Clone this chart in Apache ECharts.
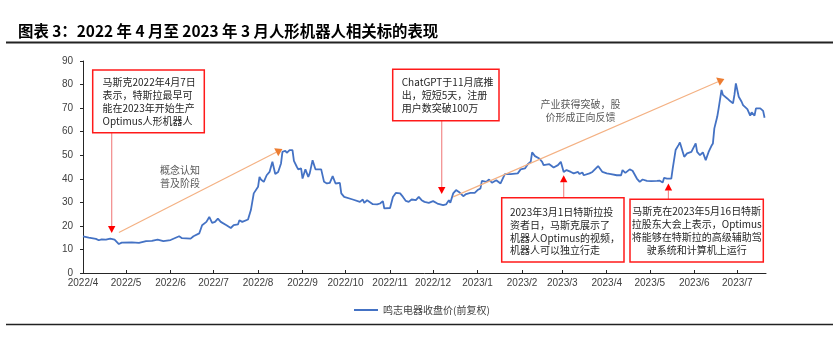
<!DOCTYPE html>
<html>
<head>
<meta charset="utf-8">
<script src="https://cdn.jsdelivr.net/npm/echarts@6/dist/echarts.min.js"></script>
<style>
html,body{margin:0;padding:0;background:#fff;}
#c{width:833px;height:337px;}
</style>
</head>
<body>
<div id="c"></div>
<script>
// ---------- data ----------
const seriesName = '鸣志电器收盘价(前复权)';
const monthLabels = ['2022/4','2022/5','2022/6','2022/7','2022/8','2022/9','2022/10','2022/11','2022/12','2023/1','2023/2','2023/3','2023/4','2023/5','2023/6','2023/7'];
const yTicks = [0,10,20,30,40,50,60,70,80,90];
const dates = [
'2022-04-01','2022-04-05','2022-04-10','2022-04-12','2022-04-14','2022-04-17','2022-04-20','2022-04-23','2022-04-26','2022-04-28',
'2022-05-05','2022-05-10','2022-05-15','2022-05-19','2022-05-23','2022-05-27','2022-06-01','2022-06-07','2022-06-09','2022-06-15',
'2022-06-17','2022-06-21','2022-06-23','2022-06-26','2022-06-28','2022-06-30','2022-07-02','2022-07-04','2022-07-06','2022-07-10',
'2022-07-13','2022-07-15','2022-07-18','2022-07-19','2022-07-21','2022-07-25','2022-07-27','2022-07-29','2022-08-01','2022-08-02',
'2022-08-03','2022-08-05','2022-08-07','2022-08-09','2022-08-11','2022-08-13','2022-08-15','2022-08-17','2022-08-18','2022-08-20',
'2022-08-21','2022-08-23','2022-08-25','2022-08-26','2022-08-28','2022-08-29','2022-08-31','2022-09-01','2022-09-03','2022-09-05',
'2022-09-06','2022-09-08','2022-09-10','2022-09-14','2022-09-16','2022-09-18','2022-09-20','2022-09-22','2022-09-24','2022-09-27',
'2022-09-28','2022-09-30','2022-10-06','2022-10-11','2022-10-13','2022-10-14','2022-10-16','2022-10-17','2022-10-20','2022-10-23',
'2022-10-25','2022-10-27','2022-10-28','2022-11-01','2022-11-03','2022-11-05','2022-11-08','2022-11-10','2022-11-12','2022-11-14',
'2022-11-16','2022-11-17','2022-11-19','2022-11-21','2022-11-23','2022-11-25','2022-11-28','2022-12-01','2022-12-04','2022-12-08',
'2022-12-10','2022-12-12','2022-12-13','2022-12-15','2022-12-17','2022-12-19','2022-12-22','2022-12-24','2022-12-27','2022-12-30',
'2023-01-01','2023-01-03','2023-01-04','2023-01-07','2023-01-09','2023-01-11','2023-01-14','2023-01-17','2023-01-20','2023-01-24',
'2023-01-29','2023-01-31','2023-02-03','2023-02-05','2023-02-07','2023-02-08','2023-02-10','2023-02-13','2023-02-15','2023-02-16',
'2023-02-20','2023-02-23','2023-02-26','2023-02-28','2023-03-02','2023-03-04','2023-03-07','2023-03-09','2023-03-12','2023-03-13',
'2023-03-15','2023-03-16','2023-03-20','2023-03-22','2023-03-23','2023-03-26','2023-03-27','2023-03-29','2023-04-01','2023-04-04',
'2023-04-08','2023-04-11','2023-04-12','2023-04-14','2023-04-17','2023-04-19','2023-04-22','2023-04-24','2023-04-26','2023-04-29',
'2023-05-02','2023-05-06','2023-05-08','2023-05-10','2023-05-11','2023-05-13','2023-05-16','2023-05-17','2023-05-19','2023-05-21',
'2023-05-22','2023-05-24','2023-05-25','2023-05-27','2023-05-30','2023-05-31','2023-06-02','2023-06-03','2023-06-04','2023-06-05',
'2023-06-07','2023-06-09','2023-06-11','2023-06-13','2023-06-14','2023-06-15','2023-06-17','2023-06-18','2023-06-20','2023-06-21',
'2023-06-24','2023-06-26','2023-06-28','2023-06-29','2023-06-30','2023-07-02','2023-07-04','2023-07-05','2023-07-08','2023-07-10',
'2023-07-11','2023-07-13','2023-07-14','2023-07-17','2023-07-19','2023-07-20'
];
const closePrices = [
15.6,15.0,14.5,13.9,14.3,14.2,14.6,14.2,12.3,12.9,
13.0,12.8,13.5,13.6,14.2,13.5,14.0,15.6,14.8,14.6,
15.6,16.8,20.3,21.7,23.8,21.3,21.7,23.1,21.7,20.3,
19.1,20.3,20.6,22.4,21.7,22.7,26.7,33.8,36.6,40.8,
39.7,38.7,41.5,42.9,47.2,42.0,42.9,46.5,51.4,51.9,
51.0,52.2,52.2,47.6,45.1,44.0,44.4,40.1,44.0,40.8,
42.3,47.9,44.0,44.0,38.7,38.0,38.3,41.1,38.0,38.3,
33.8,32.3,31.2,30.2,31.2,29.8,30.9,31.2,29.2,29.1,
29.5,30.5,27.4,27.6,32.3,34.0,33.8,32.3,30.6,30.2,
31.2,30.6,30.9,32.3,30.9,30.2,29.8,30.5,29.5,28.8,
29.1,30.9,29.8,33.8,35.2,34.4,32.6,33.5,34.0,34.0,
35.2,35.9,39.1,38.7,39.7,38.3,39.4,38.0,42.0,42.0,
42.3,44.0,44.4,46.2,47.2,51.2,49.6,48.6,47.2,45.8,
46.2,44.8,45.8,47.2,42.9,43.7,42.9,42.3,42.9,42.0,
42.7,41.5,42.3,42.9,43.2,45.4,45.8,42.9,42.3,42.0,
41.5,41.5,43.7,42.5,44.0,43.4,40.1,38.7,39.7,39.1,
39.0,39.1,39.2,38.4,40.4,40.1,40.1,44.4,52.2,54.3,
55.4,51.4,49.3,50.8,51.4,51.2,55.0,51.4,52.2,50.0,
51.2,47.9,51.4,54.0,55.0,61.4,66.3,69.9,77.7,75.6,
74.1,73.0,72.0,75.6,80.5,74.8,72.7,71.3,69.6,66.8,
68.2,66.8,69.9,69.9,68.8,65.9
];
const axisStart = '2022-04-01';
const axisEnd = '2023-07-21';

// annotation content
const titleText = '图表 3：2022 年 4 月至 2023 年 3 月人形机器人相关标的表现';
const box1Text = ['马斯克2022年4月7日','表示，特斯拉最早可','能在2023年开始生产','Optimus人形机器人'];
const box2Text = ['ChatGPT于11月底推','出，短短5天，注册','用户数突破100万'];
const box3Text = ['2023年3月1日特斯拉投','资者日，马斯克展示了','机器人Optimus的视频，','机器人可以独立行走'];
const box4Text = ['马斯克在2023年5月16日特斯','拉股东大会上表示，Optimus','将能够在特斯拉的高级辅助驾','驶系统和计算机上运行'];
const note1Text = ['概念认知','普及阶段'];
const note2Text = ['产业获得突破，股','价形成正向反馈'];
// arrows in data coordinates: [date, value] -> [date, value]
const redArrows = [
  [['2022-04-21',59.5],['2022-04-21',17.0]],
  [['2022-12-07',64.6],['2022-12-07',33.5]],
  [['2023-03-02',31.9],['2023-03-02',41.5]],
  [['2023-05-14',31.2],['2023-05-14',38.0]]
];
const orangeArrows = [
  [['2022-04-26',17.2],['2022-08-18',52.6]],
  [['2022-12-15',32.3],['2023-06-22',82.4]]
];

// ---------- helpers ----------
function ts(s){ const p=s.split('-').map(Number); return new Date(p[0],p[1]-1,p[2]).getTime(); }
const tickValues = monthLabels.map(s=>{ const p=s.split('/').map(Number); return new Date(p[0],p[1]-1,1).getTime(); });
const seriesData = dates.map((d,i)=>[ts(d), closePrices[i]]);

const FONT = '"Noto Sans CJK SC","Noto Sans",sans-serif';
const chart = echarts.init(document.getElementById('c'), null, {renderer:'canvas'});

chart.setOption({
  animation:false,
  backgroundColor:'#fff',
  grid:{left:83, right:67, top:61, bottom:64, containLabel:false},
  legend:{
    data:[seriesName], left:349, top:300, icon:'rect', itemWidth:24, itemHeight:2, itemGap:10,
    textStyle:{fontSize:10, color:'#404040', fontFamily:FONT}
  },
  xAxis:{
    type:'value', min:ts(axisStart), max:ts(axisEnd), scale:true,
    axisLine:{show:true, lineStyle:{color:'#262626', width:1}},
    axisTick:{show:true, inside:true, length:3, customValues:tickValues, lineStyle:{color:'#262626'}},
    axisLabel:{
      customValues:tickValues, margin:5, fontSize:10, color:'#404040', hideOverlap:false,
      fontFamily:'"Liberation Sans",Arial,sans-serif',
      formatter:function(v){ const d=new Date(v); return d.getFullYear()+'/'+(d.getMonth()+1); }
    },
    splitLine:{show:false}, minorTick:{show:false}
  },
  yAxis:{
    type:'value', min:yTicks[0], max:yTicks[yTicks.length-1], interval:yTicks[1]-yTicks[0],
    axisLine:{show:true, lineStyle:{color:'#262626', width:1}},
    axisTick:{show:true, inside:false, length:3, lineStyle:{color:'#262626'}},
    axisLabel:{margin:10, fontSize:10, color:'#404040', fontFamily:'"Liberation Sans",Arial,sans-serif'},
    splitLine:{show:false}
  },
  series:[{
    name:seriesName, type:'line', data:seriesData, showSymbol:false, symbol:'none',
    lineStyle:{color:'#4472C4', width:1.8}, itemStyle:{color:'#4472C4'}
  }]
});

function px(p){ return chart.convertToPixel({gridIndex:0}, [ts(p[0]), p[1]]); }
function arrow(a, b, lineColor, headColor, len, half, lw){
  const dx=b[0]-a[0], dy=b[1]-a[1], L=Math.hypot(dx,dy), ux=dx/L, uy=dy/L;
  const bx=b[0]-ux*len, by=b[1]-uy*len, nx=-uy, ny=ux;
  return [
    {type:'line', silent:true, z:50, shape:{x1:a[0],y1:a[1],x2:bx,y2:by}, style:{stroke:lineColor, lineWidth:lw}},
    {type:'polygon', silent:true, z:51, shape:{points:[[b[0],b[1]],[bx+nx*half,by+ny*half],[bx-nx*half,by-ny*half]]}, style:{fill:headColor}}
  ];
}
function box(x,y,w,h){
  return {type:'rect', silent:true, z:60, shape:{x:x,y:y,width:w,height:h}, style:{fill:'#fff', stroke:'#ff1a1a', lineWidth:1.5}};
}
function textBlock(lines, x, y, align, color){
  return {type:'text', silent:true, z:70, x:x, y:y,
    style:{text:lines.join('\n'), font:'10px '+FONT, fill:color, align:align, verticalAlign:'top', lineHeight:12.8}};
}

const g = [];
// title and rules
g.push({type:'text', silent:true, x:18, y:31, style:{text:titleText, font:'bold 15.4px '+FONT, fill:'#000', verticalAlign:'middle'}});
g.push({type:'line', silent:true, shape:{x1:6,y1:42.5,x2:833,y2:42.5}, style:{stroke:'#222', lineWidth:2}});
g.push({type:'line', silent:true, shape:{x1:6,y1:324.5,x2:833,y2:324.5}, style:{stroke:'#222', lineWidth:1.5}});
// arrows
redArrows.forEach(r=>{ g.push(...arrow(px(r[0]), px(r[1]), '#f28b8b', '#ff0000', 7, 3.7, 1.2)); });
orangeArrows.forEach(r=>{ g.push(...arrow(px(r[0]), px(r[1]), '#f4b183', '#ed7d31', 7, 4.5, 1.2)); });
// boxes
g.push(box(92.7,70,111.6,62.7));
g.push(textBlock(box1Text, 102.5, 76.2, 'left', '#262626'));
g.push(box(392.7,69.3,106.3,51.4));
g.push(textBlock(box2Text, 401.7, 75.9, 'left', '#262626'));
g.push(box(501.7,197.7,122.3,64.3));
g.push(textBlock(box3Text, 510, 205.8, 'left', '#262626'));
g.push(box(630,199.3,133.3,62.7));
g.push(textBlock(box4Text, 696.7, 205.3, 'center', '#262626'));
// gray notes
g.push(textBlock(note1Text, 180, 163.6, 'center', '#595959'));
g.push(textBlock(note2Text, 580.5, 97.6, 'center', '#595959'));

chart.setOption({graphic:{elements:g}});
</script>
</body>
</html>
